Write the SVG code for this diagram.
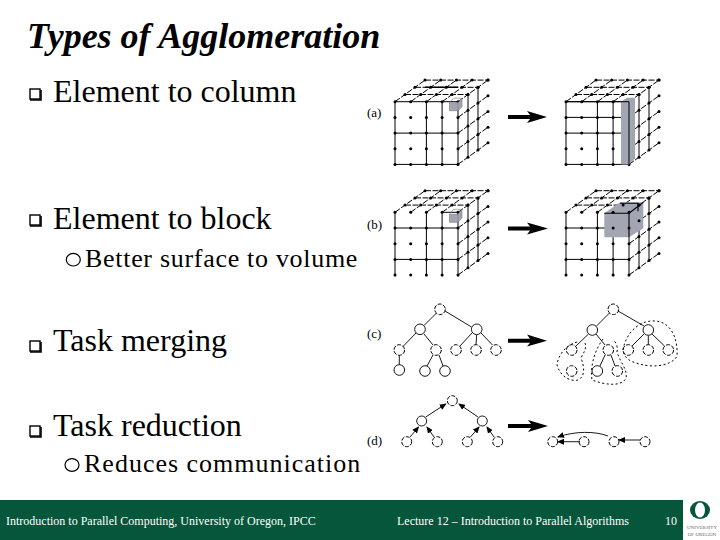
<svg xmlns="http://www.w3.org/2000/svg" width="720" height="540" viewBox="0 0 720 540">
<style>
.t{font-family:"Liberation Serif","Times New Roman",serif;fill:#000}
.h1{font-size:32px}
.h2{font-size:26px}
.lab{font-size:13px}
.foot{font-family:"Liberation Serif","Times New Roman",serif;font-size:12px;fill:#fff}
.g{fill:none;stroke:#000;stroke-width:1}
.ds{fill:none;stroke:#000;stroke-width:1;stroke-dasharray:6 1.5}
.n{fill:none;stroke:#000;stroke-width:1;stroke-dasharray:4 1.500}
.bl{fill:none;stroke:#000;stroke-width:1;stroke-dasharray:2 2.500}
.e{fill:none;stroke:#000;stroke-width:.9}
.ar{fill:none;stroke:#000;stroke-width:.9;marker-end:url(#ah)}
.box{fill:#a2a6b3}
</style>
<defs>
<marker id="ah" markerWidth="7" markerHeight="6" refX="6" refY="3" orient="auto" markerUnits="userSpaceOnUse"><path d="M0 0L7 3L0 6z" fill="#000"/></marker>
<circle id="d" r="1.5" fill="#000"/>
<g id="col"><use href="#d" y="0"/><use href="#d" y="15.7"/><use href="#d" y="31.4"/><use href="#d" y="47.1"/><use href="#d" y="62.7"/></g>
<g id="row"><use href="#d" x="0"/><use href="#d" x="15.7"/><use href="#d" x="31.4"/><use href="#d" x="47.1"/><use href="#d" x="63"/></g>
<g id="dots">
<use href="#col" x="0"/><use href="#col" x="15.7"/><use href="#col" x="31.4"/><use href="#col" x="47.1"/><use href="#col" x="63"/>
<use href="#row" x="10" y="-7.2"/><use href="#row" x="20" y="-14.4"/><use href="#row" x="30" y="-21.6"/>
<use href="#col" x="73" y="-7.2"/><use href="#col" x="83" y="-14.4"/><use href="#col" x="93" y="-21.6"/>
</g>
<g id="shell">
<path class="ds" d="M10-7.2H73M20-14.4H83M30-21.6H93M0 0L30-21.6M15.7 0L45.7-21.6M31.4 0L61.4-21.6M47.1 0L77.1-21.6M63 0L93-21.6"/>
<path class="ds" d="M63 15.7L93-5.9M63 31.4L93 9.8M63 47.1L93 25.5M63 62.7L93 41.1"/>
<path class="g" d="M73-7.2V55.5M83-14.4V48.3"/>
</g>
</defs>
<rect width="720" height="540" fill="#fff"/>
<text class="t" x="27" y="48" font-size="36" font-weight="bold" font-style="italic">Types of Agglomeration</text>
<g id="item1"><rect x="30" y="89" width="10" height="10" fill="#fff" stroke="#000" stroke-width="1.4"/><path d="M30 100H41V90" fill="none" stroke="#000" stroke-width="1.6"/><text class="t h1" x="53" y="102">Element to column</text></g>
<g id="item2"><rect x="30" y="215" width="10" height="10" fill="#fff" stroke="#000" stroke-width="1.4"/><path d="M30 226H41V216" fill="none" stroke="#000" stroke-width="1.6"/><text class="t h1" x="53" y="229">Element to block</text></g>
<g id="item2a"><ellipse cx="73.300" cy="259.700" rx="7" ry="6.300" fill="none" stroke="#000" stroke-width="1.200"/><text class="t h2" x="85" y="267" letter-spacing=".7">Better surface to volume</text></g>
<g id="item3"><rect x="30" y="341" width="10" height="10" fill="#fff" stroke="#000" stroke-width="1.4"/><path d="M30 352H41V342" fill="none" stroke="#000" stroke-width="1.6"/><text class="t h1" x="53" y="351">Task merging</text></g>
<g id="item4"><rect x="30" y="426" width="10" height="10" fill="#fff" stroke="#000" stroke-width="1.4"/><path d="M30 437H41V427" fill="none" stroke="#000" stroke-width="1.6"/><text class="t h1" x="53" y="436">Task reduction</text></g>
<g id="item4a"><ellipse cx="72" cy="465" rx="7" ry="6.300" fill="none" stroke="#000" stroke-width="1.200"/><text class="t h2" x="84" y="472" letter-spacing="1">Reduces communication</text></g>

<text class="t lab" x="367" y="117">(a)</text>
<text class="t lab" x="367" y="229">(b)</text>
<text class="t lab" x="367" y="338">(c)</text>
<text class="t lab" x="367" y="445">(d)</text>

<g id="cube-a-left" transform="translate(395 101.7)">
<use href="#shell"/>
<path class="g" d="M0 0H63V62.7H0ZM31.4 0V62.7M47.1 0V62.7M0 31.4H63"/>
<path d="M30-14.4H63" stroke="#000" stroke-width="1.6" fill="none"/>
<use href="#dots"/>
<path class="box" d="M54.5 1H63L67 -3.5V5L63 9H54.5V1Z"/><path d="M54.5 1H63V9H54.5Z M54.5 1L58.5-3.5H67L63 1M67-3.5V5L63 9" fill="none" stroke="#777" stroke-width=".6"/>
</g>
<g id="cube-a-right" transform="translate(566 101.7)">
<use href="#shell"/>
<path class="g" d="M0 0H63V62.7H0ZM31.4 0V62.7M47.1 0V62.7M0 15.7H63M0 31.4H63"/>
<use href="#dots"/>
<path class="box" d="M55 0L61-4H69L69 56.5L63 62.7H55Z"/>
<path d="M63 0V62.7M0 0H63" class="g"/>
</g>
<g id="cube-b-left" transform="translate(395 212.3)">
<use href="#shell"/>
<path class="g" d="M0 0V64M63 0V64M31.4 0V64M47.1 0V64M0 15.7H63M0 47.1H63M47.1 0H63"/>
<use href="#dots"/>
<path class="box" d="M54.5 2H63L67-3V5.500L63 10H54.5Z"/>
<path d="M54.500 2H63V10H54.500Z M54.500 2L58.500-3H67L63 2M67-3V5.500L63 10" fill="none" stroke="#777" stroke-width=".6"/>
</g>
<g id="cube-b-right" transform="translate(566 212.300)">
<use href="#shell"/>
<path class="g" d="M0 0V64M63 0V64M31.400 0V64M47.100 0V64M0 15.700H63M0 47.100H63"/>
<path class="box" d="M38.300 1L54-10H77.300V16L63 25H38.300Z"/>
<path d="M38.300 1H63V25M63 1L77.300-10M54-9H72V-1" fill="none" stroke="#000" stroke-width="1.100"/>
<use href="#dots"/>
</g>

<g id="connectors">
<path id="arrow-a" d="M508 115H530L527 111L547 117L527 123L530 119H508Z" fill="#000"/>
<path id="arrow-b" d="M508 226.500H530L527 222.500L548 228.500L527 234.500L530 230.500H508Z" fill="#000"/>
<path id="arrow-c" d="M508 338.700H530L527 334.500L547 340.700L527 346.500L530 342.700H508Z" fill="#000"/>
<path id="arrow-d" d="M508 424H531L528 420L548 426L528 432L531 428H508Z" fill="#000"/>
<path class="e" d="M436.500 313L424 325.500M445 311L471.500 327M416 333L403 346.500M424 334L433 345M472 333L460 346M476.700 335L476 344.700M481 333L492.500 345M399.300 355.300V364.700M433 355L427 366M439 355L443 366"/>
<path class="e" d="M609.500 313L596.500 326M618 311L644 326M588.500 334L576 346M596 334L605 345M644 334L632 346M648.300 335.500V344.700M652 334L664.500 346M605 355L600 366M611 355L615 366"/>
<path class="ar" d="M425.700 417L445.700 404"/><path class="ar" d="M478 417L459 404"/>
<path class="ar" d="M410 437L418.500 427"/><path class="ar" d="M434 437L427 427"/><path class="ar" d="M470.500 437L479 427"/><path class="ar" d="M494 437L487 427"/>
<path class="ar" d="M580 441.700H558"/><path class="ar" d="M640 440H619"/><path class="ar" d="M608 436C595 431 575 431 558 437"/>
</g>

<g id="tree-c-left">
<circle class="n" cx="440" cy="309.300" r="5.300"/><circle class="e" cx="420" cy="329.300" r="5.300"/><circle class="e" cx="476.700" cy="329.300" r="5.300"/>
<circle class="n" cx="399.300" cy="350" r="5.300"/><circle class="n" cx="436" cy="350" r="5.300"/><circle class="n" cx="456" cy="350" r="5.300"/><circle class="n" cx="476" cy="350" r="5.300"/><circle class="n" cx="496" cy="350" r="5.300"/>
<circle class="e" cx="399.300" cy="370" r="5.300"/><circle class="e" cx="425" cy="371" r="5.300"/><circle class="e" cx="445" cy="371" r="5.300"/>
</g>
<g id="tree-c-right">
<circle class="n" cx="613.300" cy="309.300" r="5.300"/><circle class="e" cx="592.300" cy="330" r="5.300"/><circle class="e" cx="648.300" cy="330" r="5.300"/>
<circle class="n" cx="571.700" cy="350" r="5.300"/><circle class="n" cx="608.300" cy="350" r="5.300"/><circle class="n" cx="628.300" cy="350" r="5.300"/><circle class="n" cx="648.300" cy="350" r="5.300"/><circle class="n" cx="668.300" cy="350" r="5.300"/>
<circle class="n" cx="571.700" cy="371" r="5.300"/><circle class="e" cx="597.300" cy="371" r="5.300"/><circle class="n" cx="617.300" cy="371" r="5.300"/>
<path class="bl" d="M623 350C626 332 640 320 655 321C672 322 678 340 677 356C672 366 652 368 640 364C630 362 624 358 623 350Z"/>
<path class="bl" d="M577 342C566 345 558 355 557 365C560 376 570 382 578 380C586 376 584 366 581 358C584 352 587 348 585 343"/>
<path class="bl" d="M603 339C595 350 590 365 592 380C605 385 622 387 626 378C628 370 620 362 617 352C618 346 616 342 613 340"/>
</g>
<g id="tree-d-left">
<circle class="n" cx="452.300" cy="400.700" r="5"/><circle class="e" cx="421.700" cy="421" r="5"/><circle class="e" cx="482.300" cy="421" r="5"/>
<circle class="n" cx="406.700" cy="441.700" r="5"/><circle class="n" cx="437.300" cy="441.700" r="5"/><circle class="n" cx="467.300" cy="441.700" r="5"/><circle class="n" cx="497.700" cy="441.700" r="5"/>
</g>
<g id="tree-d-right">
<circle class="n" cx="552.700" cy="441.700" r="5"/><circle class="n" cx="584" cy="441.700" r="5"/><circle class="n" cx="614" cy="441.700" r="5"/><circle class="n" cx="645" cy="441.700" r="5"/>
</g>

<g id="footer">
<rect x="0" y="500" width="683" height="40" fill="#05563a"/>
<text class="foot" x="6" y="525">Introduction to Parallel Computing, University of Oregon, IPCC</text>
<text class="foot" x="397" y="525">Lecture 12 – Introduction to Parallel Algorithms</text>
<text class="foot" x="665" y="525">10</text>
<ellipse cx="700" cy="510" rx="10" ry="9" fill="#05563a"/>
<ellipse cx="700" cy="510" rx="5" ry="7.500" fill="#fff"/>
<text x="702" y="529" font-family="Liberation Serif,serif" font-size="5" text-anchor="middle" fill="#666">UNIVERSITY</text>
<text x="702" y="536" font-family="Liberation Serif,serif" font-size="5" text-anchor="middle" fill="#666">OF OREGON</text>
</g>
</svg>
